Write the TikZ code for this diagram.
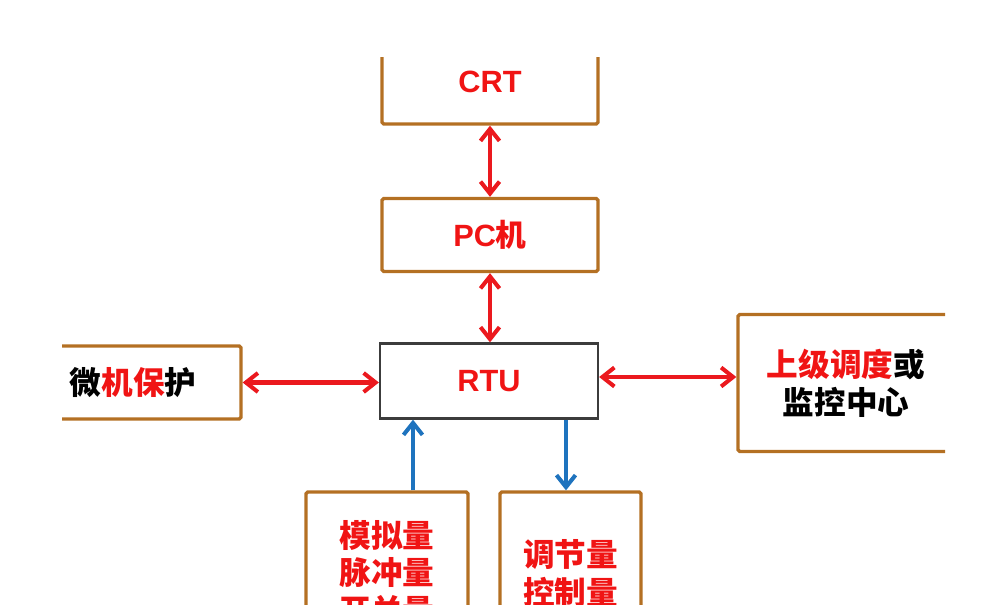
\documentclass[tikz,border=0pt]{standalone}
\usepackage{fontspec}
\setmainfont{Liberation Sans}
\newfontfamily\cjk{Noto Sans CJK SC}
\usetikzlibrary{arrows.meta}
\definecolor{boxbrown}{RGB}{180,112,35}
\definecolor{txtred}{RGB}{240,20,20}
\definecolor{arrred}{RGB}{235,25,30}
\definecolor{arrblue}{RGB}{30,115,190}
\definecolor{rtugray}{RGB}{60,60,60}
\tikzset{
  bbox/.style={draw=boxbrown, line width=1.9pt, rounded corners=1pt, inner sep=0pt},
  latin/.style={font=\bfseries\fontsize{17.5}{21}\selectfont, text=txtred},
  cjkt/.style={font=\cjk\bfseries\fontsize{18}{21.5}\selectfont, align=center},
  redarr/.style={draw=arrred, line width=2.3pt, {Straight Barb[length=2.4mm,width=3.8mm]}-{Straight Barb[length=2.4mm,width=3.8mm]}},
  bluearr/.style={draw=arrblue, line width=2.3pt, -{Straight Barb[length=2.4mm,width=3.8mm]}},
}
\begin{document}
\begin{tikzpicture}[x=0.02cm,y=-0.02cm]
\useasboundingbox (0,0) rectangle (994,605);
\begin{scope}
\clip (62,57) rectangle (945,605);
\node[bbox, minimum width=4.32cm, minimum height=1.68cm, latin] (crt) at (490,82) {CRT};
\node[bbox, minimum width=4.32cm, minimum height=1.46cm, latin] (pc) at (490,235) {PC{\cjk\bfseries 机}};
\node[draw=rtugray, line width=1.3pt, inner sep=0pt, minimum width=4.36cm, minimum height=1.5cm, latin] (rtu) at (489,381) {RTU};
\node[bbox, minimum width=4.32cm, minimum height=1.46cm, cjkt] (wj) at (133,382.5) {微\textcolor{txtred}{机保}护};
\node[bbox, minimum width=4.32cm, minimum height=2.74cm, cjkt] (sj) at (846,383) {\textcolor{txtred}{上级调度}或\\监控中心};
\node[bbox, minimum width=3.24cm, minimum height=3.24cm, cjkt, text=txtred] (bl) at (387,573) {模拟量\\脉冲量\\开关量};
\node[bbox, minimum width=2.82cm, minimum height=3.26cm, cjkt, text=txtred] (br) at (570.5,573.5) {调节量\\控制量};
\coordinate (a1) at (413,0);
\coordinate (a2) at (566,0);
\draw[redarr] (crt.south) -- (pc.north);
\draw[redarr] (pc.south) -- (pc.south |- rtu.north);
\draw[redarr] (wj.east) -- (wj.east -| rtu.west);
\draw[redarr] ([yshift=0.08cm]rtu.east) -- ([yshift=0.08cm]rtu.east -| sj.west);
\draw[bluearr] (bl.north -| a1) -- (rtu.south -| a1);
\draw[bluearr] (rtu.south -| a2) -- (br.north -| a2);
\end{scope}
\end{tikzpicture}
\end{document}
